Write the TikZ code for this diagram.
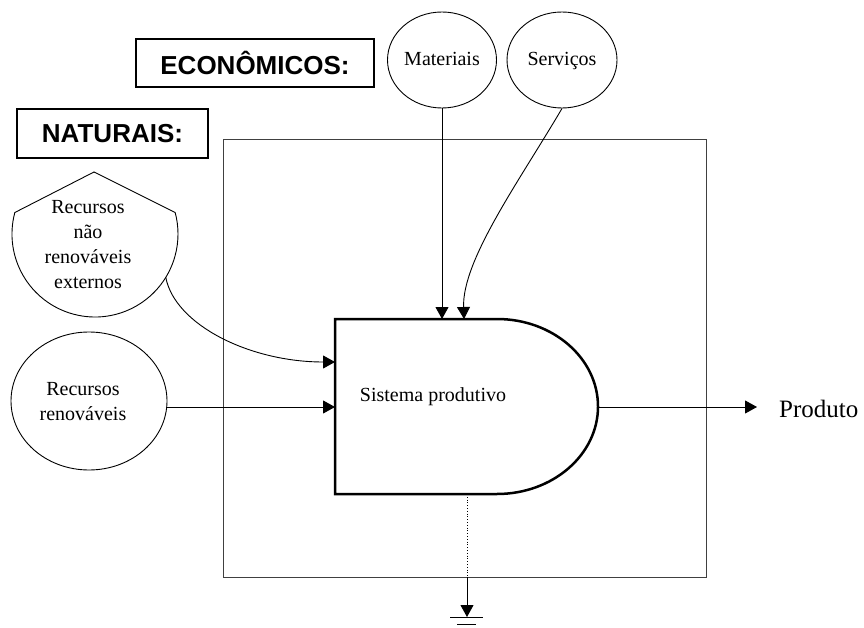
\documentclass[tikz,border=0pt]{standalone}
\usepackage{fontspec}
\setmainfont{Liberation Serif}
\newfontfamily\headfont{Liberation Sans}
\usetikzlibrary{arrows.meta,shapes.geometric,calc}
\tikzset{
  label20/.style={font=\fontsize{20}{25}\selectfont, align=center, inner sep=0pt},
  headbox/.style={draw, line width=1.8pt, inner sep=0pt,
    font=\headfont\bfseries\fontsize{26}{30}\selectfont},
  source/.style={draw, ellipse, line width=0.9pt, inner sep=0pt,
    font=\fontsize{20}{25}\selectfont, align=center},
  flow/.style={line width=0.9pt, -{Triangle[length=12pt,width=13pt]}},
  thin/.style={line width=0.9pt}
}
\begin{document}
\begin{tikzpicture}[x=1pt,y=-1pt]
\useasboundingbox (0,0) rectangle (864,628);

% system boundary
\draw[line width=1pt, black!75] (223,140) rectangle (706,577);

% group headings
\node[headbox, minimum width=238pt, minimum height=48pt] (eco) at (255,63) {ECONÔMICOS:};
\node[headbox, minimum width=191pt, minimum height=49pt] (nat) at (112.5,133.5) {NATURAIS:};

% economic sources
\node[source, text height=14pt, text depth=2pt, minimum width=109pt, minimum height=96pt] (mat) at (442,60) {Materiais};
\node[source, text height=14pt, text depth=2pt, minimum width=110pt, minimum height=96pt] (serv) at (562,60) {Serviços};

% renewable source
\node[source, minimum width=156pt, minimum height=138pt] (ren) at (89,401) {};
\node[label20] (renTxt) at (83,402) {Recursos\\renováveis};

% non-renewable storage: pointed roof over a circular bowl
\draw[thin] (95,234) ++(165:83pt) coordinate (nrL)
  arc[start angle=165, end angle=375, radius=83pt] coordinate (nrR)
  -- (94,172) coordinate (nrTop) -- cycle;
\coordinate (nrOut) at ($(95,234)+(-31.5:83pt)$);
\node[label20] (nr) at (88,245) {Recursos\\não\\renováveis\\externos};

% production system (D-shaped unit)
\draw[line width=2.5pt, line join=miter]
  (335,319) coordinate (dTL) -- (497,319)
  arc[start angle=90, end angle=-90, x radius=101pt, y radius=87.5pt]
  -- (335,494) coordinate (dBL) -- cycle;
\node[label20] (sys) at (433,397) {Sistema produtivo};
\coordinate (inMat) at (442,319);
\coordinate (inServ) at (464,319);
\coordinate (inNR) at (335,362);
\coordinate (inRen) at (335,407);
\coordinate (outP) at (598,407);
\coordinate (outSink) at (467,494);
\coordinate (edgeSink) at (467,577);
\coordinate (heat) at (467,617);

% product
\node[font=\fontsize{25}{30}\selectfont, anchor=base west, inner sep=0pt] (prod) at (779,417) {Produto};
\coordinate (prodTip) at (757,407);

% flows
\draw[flow] (mat.south) -- (inMat);
\draw[flow] (serv.south) .. controls (520,180) and (462,260) .. (inServ);
\draw[flow] (nrOut) .. controls (175,325) and (250,362) .. (inNR);
\draw[flow] (ren.east |- inRen) -- (inRen);
\draw[flow] (outP) -- (prodTip);
\draw[line width=0.8pt, dotted] (outSink) -- (edgeSink);
\draw[flow] (edgeSink) -- (heat);

% heat sink symbol
\draw[thin] ($(heat)+(-17,0)$) -- ($(heat)+(16,0)$);
\draw[thin] ($(heat)+(-10,7)$) -- ($(heat)+(9,7)$);
\end{tikzpicture}
\end{document}
